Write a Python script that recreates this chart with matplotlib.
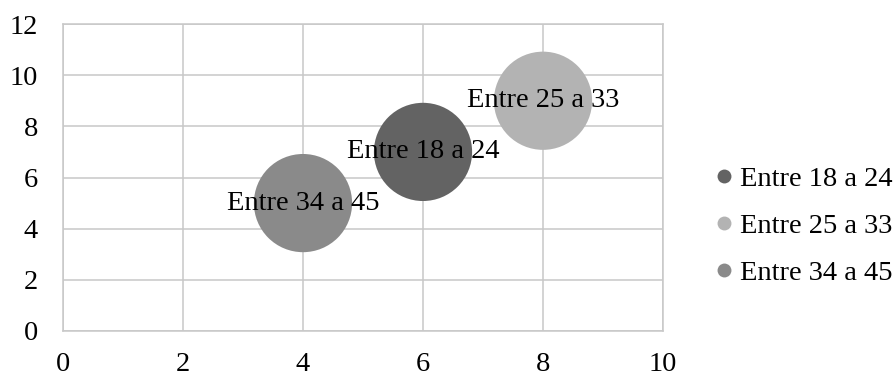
import matplotlib
matplotlib.use("Agg")
import matplotlib.pyplot as plt
from matplotlib.lines import Line2D

series = ["Entre 18 a 24", "Entre 25 a 33", "Entre 34 a 45"]
x_vals = [6, 8, 4]
y_vals = [7, 9, 5]
bubble_sizes = [1, 1, 1]
colors = ["#636363", "#b3b3b3", "#8a8a8a"]
x_ticks = [0, 2, 4, 6, 8, 10]
y_ticks = [0, 2, 4, 6, 8, 10, 12]

FONT = "Liberation Serif"
FS = 20.5

fig = plt.figure(figsize=(8.96, 3.77), dpi=100)
ax = fig.add_axes([63/896, 1-331/377, 600/896, 307/377])

scale = 5000
for name, x, y, s, c in zip(series, x_vals, y_vals, bubble_sizes, colors):
    ax.scatter([x], [y], s=s*scale, color=c, edgecolors="none", zorder=3)
for name, x, y in zip(series, x_vals, y_vals):
    ax.text(x, y, name, ha="center", va="center", fontsize=FS,
            family=FONT, color="black", zorder=4)

ax.set_xlim(0, 10)
ax.set_ylim(0, 12)
ax.set_xticks(x_ticks)
ax.set_yticks(y_ticks)
ax.set_xticklabels([str(v) for v in x_ticks], family=FONT, fontsize=FS)
ax.set_yticklabels([str(v) for v in y_ticks], family=FONT, fontsize=FS)
ax.tick_params(axis="both", length=0)
ax.tick_params(axis="x", pad=15)
ax.tick_params(axis="y", pad=18)
ax.grid(True, color="#c8c8c8", linewidth=1.1, zorder=0)
ax.set_axisbelow(True)
for sp in ax.spines.values():
    sp.set_color("#c8c8c8")
    sp.set_linewidth(1.1)

handles = [Line2D([0], [0], marker="o", linestyle="none", markersize=10,
                  markerfacecolor=c, markeredgecolor="none") for c in colors]
leg = fig.legend(handles, series, loc="center left", frameon=False,
                 prop={"family": FONT, "size": FS}, handletextpad=0.05,
                 handlelength=1.0, labelspacing=0.75, borderaxespad=0,
                 borderpad=0)
leg.set_bbox_to_anchor((710/896, 1-226/377), transform=fig.transFigure)

fig.savefig("out.png", dpi=100)
